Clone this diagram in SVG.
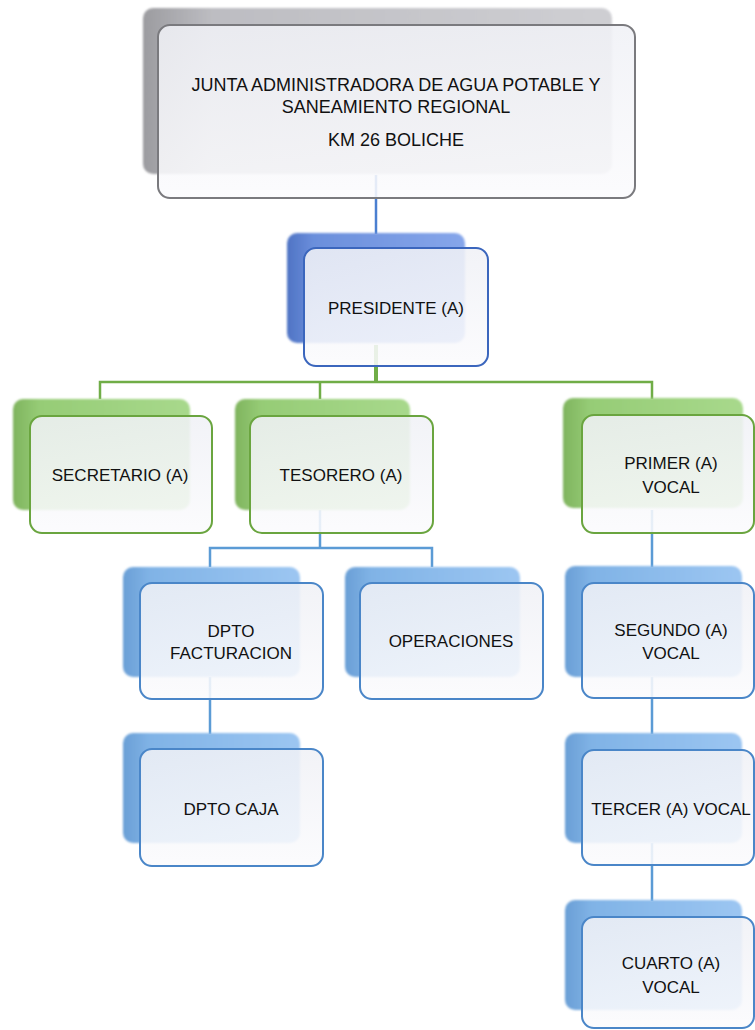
<svg xmlns="http://www.w3.org/2000/svg" width="755" height="1030" viewBox="0 0 755 1030">
<defs>
<linearGradient id="gGray" x1="0" y1="0" x2="1" y2="0"><stop offset="0" stop-color="#9c9ca0"/><stop offset="0.15" stop-color="#bdbdc2"/><stop offset="1" stop-color="#cfcfd3"/></linearGradient>
<linearGradient id="gBlue" x1="0" y1="0" x2="1" y2="0"><stop offset="0" stop-color="#4f74c4"/><stop offset="0.15" stop-color="#6b8fdc"/><stop offset="1" stop-color="#86a6ea"/></linearGradient>
<linearGradient id="gGreen" x1="0" y1="0" x2="1" y2="0"><stop offset="0" stop-color="#7fb45e"/><stop offset="0.15" stop-color="#96cc76"/><stop offset="1" stop-color="#a8d98c"/></linearGradient>
<linearGradient id="gLight" x1="0" y1="0" x2="1" y2="0"><stop offset="0" stop-color="#6a9fd6"/><stop offset="0.15" stop-color="#80b3e6"/><stop offset="1" stop-color="#9cc6f2"/></linearGradient>
<linearGradient id="gFront" x1="0" y1="0" x2="0" y2="1"><stop offset="0" stop-color="#f0f1f6"/><stop offset="1" stop-color="#fbfbfd"/></linearGradient>
<filter id="soft" x="-5%" y="-5%" width="110%" height="110%"><feGaussianBlur stdDeviation="1.2"/></filter>
</defs>
<style>
.t{font-family:"Liberation Sans",Arial,sans-serif;font-size:17px;fill:#111;text-anchor:middle}
.tt{font-size:18px}
.front{fill:url(#gFront);fill-opacity:0.88;stroke-width:2}
.back{filter:url(#soft)}
.cb{stroke:#4a7fd0;stroke-width:2.5;fill:none}
.cg{stroke:#70ad47;stroke-width:2.5;fill:none}
.cl{stroke:#5b9bd5;stroke-width:2.5;fill:none}
</style>
<g id="connectors">
<line class="cb" x1="376" y1="175" x2="376" y2="234"/>
<line class="cg" x1="376" y1="345" x2="376" y2="382" style="stroke-width:4"/>
<polyline class="cg" points="100,399 100,382 652,382 652,399"/>
<line class="cg" x1="320" y1="382" x2="320" y2="399"/>
<line class="cl" x1="320" y1="510" x2="320" y2="548"/>
<polyline class="cl" points="210,567 210,548 432,548 432,567"/>
<line class="cl" x1="210" y1="677" x2="210" y2="734"/>
<line class="cl" x1="652" y1="510" x2="652" y2="567"/>
<line class="cl" x1="652" y1="677" x2="652" y2="734"/>
<line class="cl" x1="652" y1="843" x2="652" y2="901"/>
</g>
<g id="n-junta">
<rect class="back" x="143" y="8" width="469" height="166" rx="10" fill="url(#gGray)"/>
<rect class="front" x="158" y="25" width="477" height="173" rx="12" stroke="#7a7a7e"/>
<text class="t tt" x="396" y="91">JUNTA ADMINISTRADORA DE AGUA POTABLE Y</text>
<text class="t tt" x="396" y="113">SANEAMIENTO REGIONAL</text>
<text class="t tt" x="396" y="146">KM 26 BOLICHE</text>
</g>
<g id="n-presidente">
<rect class="back" x="287" y="233" width="178" height="110" rx="10" fill="url(#gBlue)"/>
<rect class="front" x="304" y="248" width="184" height="118" rx="12" stroke="#3b66bd"/>
<text class="t" x="396" y="314">PRESIDENTE (A)</text>
</g>
<g id="n-secretario">
<rect class="back" x="13" y="399" width="177" height="111" rx="10" fill="url(#gGreen)"/>
<rect class="front" x="30" y="416" width="182" height="117" rx="12" stroke="#6aa53f"/>
<text class="t" x="120" y="481">SECRETARIO (A)</text>
</g>
<g id="n-tesorero">
<rect class="back" x="235" y="399" width="175" height="111" rx="10" fill="url(#gGreen)"/>
<rect class="front" x="250" y="416" width="183" height="117" rx="12" stroke="#6aa53f"/>
<text class="t" x="341" y="481">TESORERO (A)</text>
</g>
<g id="n-primer">
<rect class="back" x="563" y="398" width="180" height="110" rx="10" fill="url(#gGreen)"/>
<rect class="front" x="582" y="415" width="172" height="118" rx="12" stroke="#6aa53f"/>
<text class="t" x="671" y="469">PRIMER (A)</text>
<text class="t" x="671" y="493">VOCAL</text>
</g>
<g id="n-facturacion">
<rect class="back" x="123" y="567" width="177" height="110" rx="10" fill="url(#gLight)"/>
<rect class="front" x="140" y="583" width="183" height="116" rx="12" stroke="#4a86c8"/>
<text class="t" x="231" y="637">DPTO</text>
<text class="t" x="231" y="659">FACTURACION</text>
</g>
<g id="n-operaciones">
<rect class="back" x="345" y="567" width="175" height="110" rx="10" fill="url(#gLight)"/>
<rect class="front" x="360" y="583" width="183" height="116" rx="12" stroke="#4a86c8"/>
<text class="t" x="451" y="647">OPERACIONES</text>
</g>
<g id="n-caja">
<rect class="back" x="123" y="733" width="177" height="110" rx="10" fill="url(#gLight)"/>
<rect class="front" x="140" y="749" width="183" height="117" rx="12" stroke="#4a86c8"/>
<text class="t" x="231" y="815">DPTO CAJA</text>
</g>
<g id="n-segundo">
<rect class="back" x="565" y="566" width="177" height="111" rx="10" fill="url(#gLight)"/>
<rect class="front" x="582" y="583" width="172" height="115" rx="12" stroke="#4a86c8"/>
<text class="t" x="671" y="636">SEGUNDO (A)</text>
<text class="t" x="671" y="659">VOCAL</text>
</g>
<g id="n-tercer">
<rect class="back" x="565" y="733" width="177" height="110" rx="10" fill="url(#gLight)"/>
<rect class="front" x="582" y="750" width="172" height="115" rx="12" stroke="#4a86c8"/>
<text class="t" x="671" y="815">TERCER (A) VOCAL</text>
</g>
<g id="n-cuarto">
<rect class="back" x="565" y="900" width="177" height="110" rx="10" fill="url(#gLight)"/>
<rect class="front" x="582" y="917" width="172" height="111" rx="12" stroke="#4a86c8"/>
<text class="t" x="671" y="969">CUARTO (A)</text>
<text class="t" x="671" y="993">VOCAL</text>
</g>
</svg>
